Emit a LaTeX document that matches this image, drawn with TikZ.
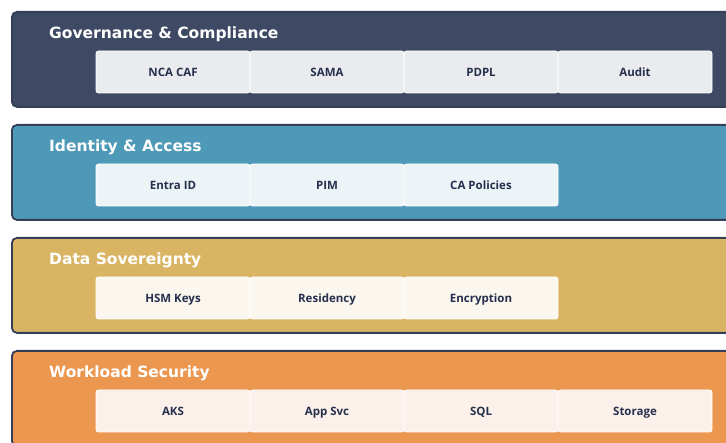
\documentclass[tikz,border=0pt]{standalone}
\usepackage{fontspec}
\setmainfont{DejaVu Sans}
\newfontfamily\chipfont{Open Sans}
\usepackage{xcolor}
\usepackage{tikz}
\usetikzlibrary{positioning}
\definecolor{edgec}{HTML}{343F56}
\definecolor{inkc}{HTML}{26304D}
\definecolor{govc}{HTML}{3E4A63}
\definecolor{idc}{HTML}{4E98B8}
\definecolor{datc}{HTML}{D9B563}
\definecolor{wlc}{HTML}{EC974F}
\definecolor{govl}{HTML}{E9EBEF}
\definecolor{idl}{HTML}{ECF4F8}
\definecolor{datl}{HTML}{FBF7EF}
\definecolor{wll}{HTML}{FBF1EA}
\tikzset{
  band/.style={draw=edgec,line width=1.8pt,rounded corners=5pt,anchor=north west,
    minimum width=740pt,minimum height=95pt,inner sep=0pt},
  ttl/.style={anchor=base west,text=white,font=\bfseries\fontsize{15.5}{18}\selectfont,inner sep=0pt},
  chip/.style={draw=white,line width=0.8pt,rounded corners=2.5pt,minimum width=154pt,
    minimum height=42pt,inner sep=0pt,text height=10pt,text depth=0pt,text=inkc,
    font=\chipfont\bfseries\fontsize{11.5}{13}\selectfont}
}

\begin{document}
\begin{tikzpicture}[x=1pt,y=-1pt]
\useasboundingbox (0,0) rectangle (726,443);
% layer 1
\node[band,fill=govc] (band1) at (11,11) {};
\node[ttl] (ttl1) at (49,38.5) {Governance \& Compliance};
\foreach \t [count=\j] in {NCA CAF,SAMA,PDPL,Audit}
  \node[chip,fill=govl] (c1-\j) at ({173+154*(\j-1)},72) {\t};
% layer 2
\node[band,fill=idc] (band2) at (11,124) {};
\node[ttl] (ttl2) at (49,151.5) {Identity \& Access};
\foreach \t [count=\j] in {Entra ID,PIM,CA Policies}
  \node[chip,fill=idl] (c2-\j) at ({173+154*(\j-1)},185) {\t};
% layer 3
\node[band,fill=datc] (band3) at (11,237) {};
\node[ttl] (ttl3) at (49,264.5) {Data Sovereignty};
\foreach \t [count=\j] in {HSM Keys,Residency,Encryption}
  \node[chip,fill=datl] (c3-\j) at ({173+154*(\j-1)},298) {\t};
% layer 4
\node[band,fill=wlc] (band4) at (11,350) {};
\node[ttl] (ttl4) at (49,377.5) {Workload Security};
\foreach \t [count=\j] in {AKS,App Svc,SQL,Storage}
  \node[chip,fill=wll] (c4-\j) at ({173+154*(\j-1)},411) {\t};
\end{tikzpicture}
\end{document}
